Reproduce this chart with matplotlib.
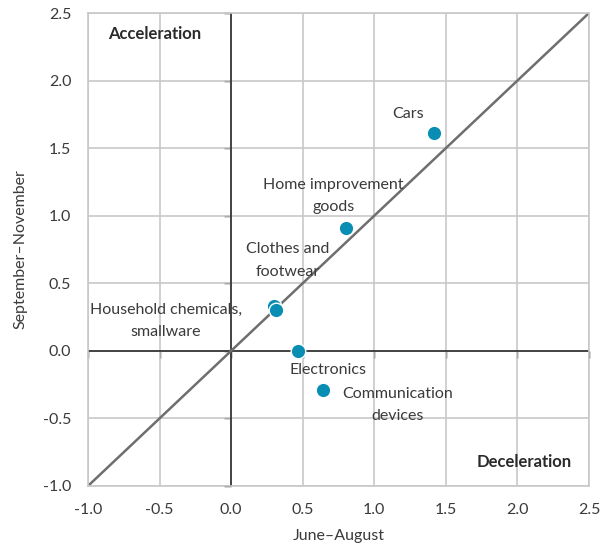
import matplotlib
matplotlib.use('Agg')
import matplotlib.pyplot as plt
import numpy as np

# growth in June-August vs September-November, by product group
names = ['Cars', 'Home improvement\ngoods', 'Clothes and\nfootwear',
         'Household chemicals,\nsmallware', 'Electronics', 'Communication\ndevices']
jun_aug = [1.42, 0.80, 0.30, 0.31, 0.47, 0.64]
sep_nov = [1.61, 0.91, 0.33, 0.30, 0.00, -0.29]

# label offsets in points (dx, dy)
offsets = [(-19, 14), (-9, 23), (10, 33), (-79, -7.5), (21, -14), (54, -11)]

ticks = [-1.0, -0.5, 0.0, 0.5, 1.0, 1.5, 2.0, 2.5]
tick_labels = ['%.1f' % t for t in ticks]

plt.rcParams['font.family'] = ['Lato', 'DejaVu Sans']
txt = '#3a3a3a'
grid = '#c8c8c8'
dot = '#0a8db3'

fig = plt.figure(figsize=(6.11, 5.49), dpi=100)
ax = fig.add_axes([0.144, 0.1148, 0.820, 0.8615])

ax.set_xlim(-1.0, 2.5)
ax.set_ylim(-1.0, 2.5)
ax.set_xticks(ticks)
ax.set_yticks(ticks)
ax.set_xticklabels(tick_labels)
ax.set_yticklabels(tick_labels)
ax.tick_params(length=0, labelsize=11.5, colors=txt)
ax.tick_params(axis='x', pad=12)
ax.tick_params(axis='y', pad=12)
ax.grid(True, color=grid, linewidth=1.2)
ax.set_axisbelow(True)
for s in ax.spines.values():
    s.set_color(grid)
    s.set_linewidth(1.2)

# zero axes with small ticks
ax.axhline(0, color='#1e1e1e', linewidth=1.1, zorder=1.5)
ax.axvline(0, color='#1e1e1e', linewidth=1.1, zorder=1.5)
sx = ax.secondary_xaxis(1.0 / 3.5)
sx.set_xticks(ticks)
sx.tick_params(labelbottom=False, length=5, color='#1e1e1e', width=1)
sx.spines['bottom'].set_visible(False)
sy = ax.secondary_yaxis(1.0 / 3.5)
sy.set_yticks(ticks)
sy.tick_params(labelleft=False, length=5, color='#1e1e1e', width=1)
sy.spines['left'].set_visible(False)

# 45-degree line
ax.plot(ticks, ticks, color='#6e6e6e', linewidth=1.8, zorder=2)

ax.scatter(jun_aug, sep_nov, s=110, color=dot, edgecolor='white', linewidth=1.0, zorder=3)

for name, x, y, off in zip(names, jun_aug, sep_nov, offsets):
    ax.annotate(name, (x, y), xytext=off, textcoords='offset points',
                ha='center', va='center', fontsize=11.5, color=txt,
                linespacing=1.75, zorder=4)

ax.text(0.04, 0.955, 'Acceleration', transform=ax.transAxes, fontsize=12,
        fontweight='bold', color='#2a2a2a', ha='left', va='center')
ax.text(0.966, 0.05, 'Deceleration', transform=ax.transAxes, fontsize=12,
        fontweight='bold', color='#2a2a2a', ha='right', va='center')

ax.set_xlabel('June\u2013August', fontsize=11.5, color=txt, labelpad=9)
ax.set_ylabel('September\u2013November', fontsize=11.5, color=txt, labelpad=11)

fig.savefig('out.png', dpi=100)
